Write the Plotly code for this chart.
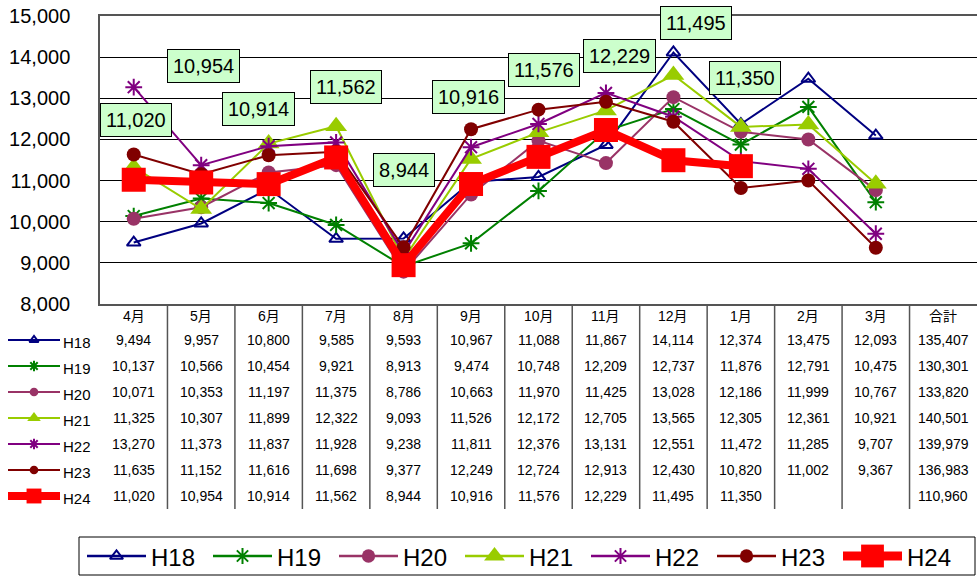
import plotly.graph_objects as go

# ---------------- data ----------------
months = ["4月", "5月", "6月", "7月", "8月", "9月", "10月", "11月", "12月", "1月", "2月", "3月"]
total_label = "合計"
series_names = ["H18", "H19", "H20", "H21", "H22", "H23", "H24"]

h18 = [9494, 9957, 10800, 9585, 9593, 10967, 11088, 11867, 14114, 12374, 13475, 12093]
h19 = [10137, 10566, 10454, 9921, 8913, 9474, 10748, 12209, 12737, 11876, 12791, 10475]
h20 = [10071, 10353, 11197, 11375, 8786, 10663, 11970, 11425, 13028, 12186, 11999, 10767]
h21 = [11325, 10307, 11899, 12322, 9093, 11526, 12172, 12705, 13565, 12305, 12361, 10921]
h22 = [13270, 11373, 11837, 11928, 9238, 11811, 12376, 13131, 12551, 11472, 11285, 9707]
h23 = [11635, 11152, 11616, 11698, 9377, 12249, 12724, 12913, 12430, 10820, 11002, 9367]
h24 = [11020, 10954, 10914, 11562, 8944, 10916, 11576, 12229, 11495, 11350, None, None]
totals = [135407, 130301, 133820, 140501, 139979, 136983, 110960]

y_ticks = [8000, 9000, 10000, 11000, 12000, 13000, 14000, 15000]

series_values = [h18, h19, h20, h21, h22, h23, h24]

# ---------------- styles ----------------
FONT = "Liberation Sans, Arial, Noto Sans CJK JP, sans-serif"
styles = [
    dict(color="#000080", lw=2, symbol="triangle-up-open", size=12, mlw=2),
    dict(color="#008000", lw=2, symbol="asterisk-open", size=14, mlw=2),
    dict(color="#993366", lw=2, symbol="circle", size=14, mlw=0),
    dict(color="#99CC00", lw=2, symbol="triangle-up", size=19, mlw=0),
    dict(color="#800080", lw=2, symbol="asterisk-open", size=14, mlw=2),
    dict(color="#800000", lw=2, symbol="circle", size=14, mlw=0),
    dict(color="#FF0000", lw=8, symbol="square", size=24, mlw=0),
]
# label offsets (pixels) for H24 data labels
label_shift = [(2, 60), (2, 116), (-10, 75), (10, 70), (0, 95), (-3, 87),
               (5, 87), (14, 74), (23, 137), (4, 88)]

W, H = 977, 577
PLOT_L, PLOT_T, PLOT_B = 100, 16, 304

fig = go.Figure()
xs = list(range(len(months)))

for name, vals, st in zip(series_names, series_values, styles):
    fig.add_trace(go.Scatter(
        x=xs, y=vals, name=name, mode="lines+markers",
        line=dict(color=st["color"], width=st["lw"]),
        marker=dict(symbol=st["symbol"], size=st["size"], color=st["color"],
                    line=dict(color=st["color"], width=st["mlw"])),
        cliponaxis=False, showlegend=False,
    ))

annotations = []
shapes = []

# data labels for H24
for i, v in enumerate(h24):
    if v is None:
        continue
    dx, dy = label_shift[i]
    annotations.append(dict(
        x=i, y=v, xref="x", yref="y", text=f"{v:,}", showarrow=False,
        xshift=dx, yshift=dy, bgcolor="#CCFFCC", bordercolor="#000000",
        borderwidth=1, borderpad=5, font=dict(size=20, color="#000", family=FONT)))

# ---------------- data table ----------------
header_y = 316
row_y0, row_dy = 340, 26
for i, m in enumerate(months + [total_label]):
    annotations.append(dict(x=i, y=header_y, xref="x", yref="y2", text=m, showarrow=False,
                            font=dict(size=14, color="#000", family=FONT)))
for r, (vals, tot) in enumerate(zip(series_values, totals)):
    yy = row_y0 + r * row_dy
    for i, v in enumerate(vals + [tot]):
        if v is None:
            continue
        annotations.append(dict(x=i, y=yy, xref="x", yref="y2", text=f"{v:,}", showarrow=False,
                                font=dict(size=14, color="#000", family=FONT)))
for i in range(len(months)):
    shapes.append(dict(type="line", xref="x", yref="y2", x0=i + 0.5, x1=i + 0.5,
                       y0=PLOT_B + 1, y1=509, line=dict(color="#555", width=1.5)))

# row keys of the table
for r, (name, st) in enumerate(zip(series_names, styles)):
    yy = row_y0 + r * row_dy
    lw = 8 if st["lw"] > 4 else 2
    shapes.append(dict(type="line", xref="x2", yref="y2", x0=8, x1=60, y0=yy, y1=yy,
                       line=dict(color=st["color"], width=lw)))
    fig.add_trace(go.Scatter(
        x=[34], y=[yy], xaxis="x2", yaxis="y2", mode="markers", showlegend=False,
        marker=dict(symbol=st["symbol"], size=max(8, st["size"] * 0.62), color=st["color"],
                    line=dict(color=st["color"], width=st["mlw"])),
        cliponaxis=False, hoverinfo="skip"))
    annotations.append(dict(x=61, y=yy + 2, xref="x2", yref="y2", text=name, showarrow=False,
                            xanchor="left", font=dict(size=15, color="#000", family=FONT)))

# ---------------- bottom legend ----------------
shapes.append(dict(type="rect", xref="x2", yref="y2", x0=79, x1=975, y0=537, y1=575,
                   line=dict(color="#000", width=1)))
leg_y, leg_x0, leg_dx = 556, 87, 126
for k, (name, st) in enumerate(zip(series_names, styles)):
    x0 = leg_x0 + k * leg_dx
    lw = 9 if st["lw"] > 4 else 2.5
    shapes.append(dict(type="line", xref="x2", yref="y2", x0=x0, x1=x0 + 59, y0=leg_y, y1=leg_y,
                       line=dict(color=st["color"], width=lw)))
    fig.add_trace(go.Scatter(
        x=[x0 + 29.5], y=[leg_y], xaxis="x2", yaxis="y2", mode="markers", showlegend=False,
        marker=dict(symbol=st["symbol"], size=st["size"] * 0.95, color=st["color"],
                    line=dict(color=st["color"], width=st["mlw"])),
        cliponaxis=False, hoverinfo="skip"))
    annotations.append(dict(x=x0 + 62, y=leg_y + 1, xref="x2", yref="y2", text=name,
                            showarrow=False, xanchor="left",
                            font=dict(size=24, color="#000", family=FONT)))

fig.update_layout(
    width=W, height=H, margin=dict(l=0, r=0, t=0, b=0, pad=0),
    paper_bgcolor="white", plot_bgcolor="rgba(0,0,0,0)",
    showlegend=False, font=dict(family=FONT, color="#000"),
    xaxis=dict(domain=[PLOT_L / W, 1], range=[-0.5, len(months) + 0.5], showticklabels=False,
               showgrid=False, zeroline=False, showline=True, mirror=True,
               linecolor="#555", linewidth=1.5, ticks="", automargin=False),
    yaxis=dict(domain=[(H - PLOT_B) / H, (H - PLOT_T) / H], range=[8000, 15000],
               tickvals=y_ticks, tickformat=",", tickfont=dict(size=20, color="#000", family=FONT),
               showgrid=True, gridcolor="#000", gridwidth=1, zeroline=False,
               showline=True, mirror=True, linecolor="#555", linewidth=1.5,
               ticks="", ticklabelstandoff=24, automargin=False),
    xaxis2=dict(domain=[0, 1], range=[0, W], visible=False, anchor="y2", fixedrange=True,
                automargin=False),
    yaxis2=dict(domain=[0, 1], range=[H, 0], visible=False, anchor="x2", fixedrange=True,
                automargin=False),
    annotations=annotations, shapes=shapes,
)

fig.write_html("out.html", config={"displayModeBar": False},
               post_script="document.body.style.margin='0';document.body.style.overflow='hidden';")
